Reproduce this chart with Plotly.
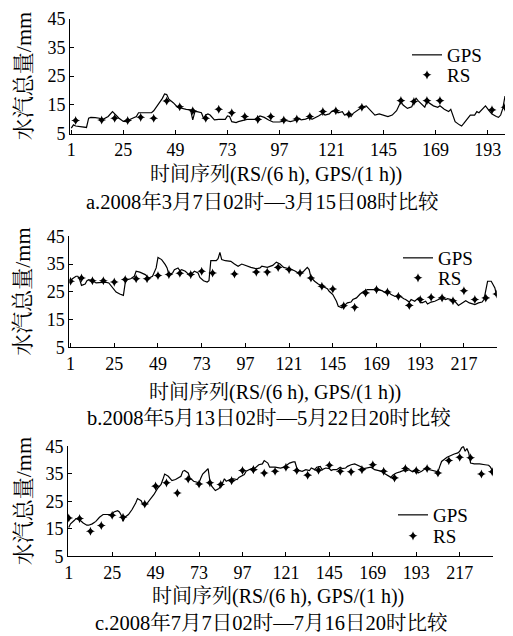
import plotly.graph_objects as go

W, H = 513, 636

# ---------------- data ----------------
# Panel a: 2008-03-07 02h -- 03-15 08h
a_gps_h = [1, 2, 3, 5, 8, 9, 10, 12, 14, 15, 18, 20, 21, 23, 25, 27, 28, 30, 31, 32, 35, 38, 39, 41, 43, 44, 45, 46, 48, 50,
           52, 54, 56, 57, 58, 59, 61, 62, 63, 64, 65, 67, 69, 72, 73, 74, 75, 77, 78, 82, 85, 86, 88, 90, 92, 94, 97, 100,
           102, 104, 106, 107, 109, 111, 112, 114, 115, 117, 118, 120, 121, 123, 124, 126, 127, 129, 130, 131, 133, 135,
           137, 139, 141, 143, 145, 147, 149, 151, 153, 154, 156, 158, 159, 160, 161, 163, 164, 165, 167, 168, 170, 171,
           173, 175, 176, 177, 178, 180, 181, 182, 184, 185, 187, 188, 189, 191, 192, 194, 195, 197, 198, 199, 200, 201]
a_gps_v = [7.0, 8.1, 7.7, 7.5, 7.2, 10.4, 10.7, 10.6, 10.4, 9.8, 11.0, 12.7, 11.9, 10.4, 9.3, 9.2, 10.0, 10.7, 11.0, 12.3,
           12.3, 12.3, 13.0, 15.0, 17.3, 18.8, 18.6, 17.0, 15.8, 14.2, 13.8, 13.5, 13.3, 9.8, 12.7, 12.7, 12.3, 10.4, 11.5,
           11.9, 11.5, 9.8, 10.0, 10.0, 11.2, 11.0, 9.2, 8.9, 9.2, 10.0, 10.0, 10.0, 11.2, 10.7, 9.8, 9.1, 9.1, 9.6, 9.2,
           9.6, 10.4, 9.8, 10.1, 10.7, 10.0, 11.0, 11.2, 12.1, 11.5, 11.9, 12.7, 13.0, 12.3, 12.7, 11.5, 11.9, 11.0, 12.1,
           13.3, 14.2, 14.7, 13.0, 11.5, 11.9, 11.5, 11.0, 11.5, 13.0, 16.2, 15.0, 13.8, 14.4, 16.2, 17.3, 16.4, 15.0,
           14.2, 16.2, 15.0, 14.7, 14.2, 14.7, 13.5, 12.7, 13.5, 11.5, 9.2, 8.1, 7.7, 8.6, 10.4, 11.5, 11.5, 12.7, 12.3,
           13.8, 14.7, 12.7, 11.9, 11.0, 10.7, 11.5, 13.8, 18.1]
a_rs_h = [3, 15, 21, 27, 33, 39, 45, 51, 57, 63, 69, 75, 81, 87, 93, 99, 105, 111, 117, 123, 129, 135, 153, 159, 165, 171,
          195, 201]
a_rs_v = [9.6, 9.8, 10.4, 9.6, 10.7, 10.4, 16.4, 14.4, 13.0, 10.4, 13.5, 12.3, 11.0, 10.0, 11.0, 9.8, 10.1, 11.0, 12.7,
          13.0, 11.8, 14.2, 16.5, 16.2, 16.5, 16.5, 13.3, 14.2]

# Panel b: 2008-05-13 02h -- 05-22 20h
b_gps_h = [1, 2, 4, 5, 6, 7, 9, 10, 11, 13, 15, 18, 20, 22, 24, 26, 28, 30, 31, 32, 34, 36, 37, 39, 42, 44, 46, 48, 49, 51,
           53, 54, 55, 57, 58, 60, 61, 62, 64, 66, 68, 69, 71, 72, 74, 76, 77, 78, 81, 82, 83, 84, 86, 89, 91, 93, 95, 97,
           100, 103, 105, 106, 109, 112, 114, 116, 118, 121, 124, 127, 129, 131, 132, 133, 135, 137, 139, 142, 143, 145,
           147, 148, 150, 151, 153, 155, 156, 158, 160, 162, 164, 166, 169, 172, 174, 176, 177, 179, 182, 184, 185, 187,
           188, 190, 192, 193, 194, 196, 197, 199, 201, 203, 205, 207, 208, 210, 212, 214, 215, 217, 218, 220, 223, 225,
           227, 228, 229, 230, 232, 234, 235]
b_gps_v = [28.9, 29.7, 30.6, 30.6, 29.4, 27.3, 27.8, 29.0, 29.4, 29.0, 28.2, 28.5, 28.5, 28.2, 26.6, 24.9, 24.2, 23.7, 28.2,
           29.4, 29.7, 30.6, 32.4, 32.1, 31.2, 30.0, 30.6, 33.6, 37.4, 36.6, 34.8, 33.6, 31.2, 31.8, 33.0, 33.6, 32.6, 33.0,
           32.4, 31.2, 31.8, 32.4, 31.8, 30.2, 29.0, 28.5, 29.0, 36.2, 36.2, 36.9, 39.2, 36.6, 36.2, 36.0, 35.0, 34.2, 35.0,
           34.5, 33.8, 33.3, 33.6, 34.2, 33.8, 34.5, 35.7, 35.0, 33.8, 33.3, 32.6, 31.4, 32.4, 33.8, 33.0, 30.2, 28.8, 27.8,
           27.0, 26.1, 25.2, 24.0, 21.6, 19.8, 19.2, 19.8, 21.0, 21.3, 22.2, 22.8, 24.2, 25.2, 25.8, 25.8, 25.8, 25.4, 24.6,
           24.6, 24.0, 23.4, 23.4, 22.5, 22.2, 21.3, 22.2, 21.6, 22.8, 21.3, 21.0, 21.6, 20.6, 21.3, 21.6, 22.2, 22.8, 22.2,
           22.5, 22.2, 21.6, 20.1, 20.6, 21.6, 21.8, 21.0, 20.4, 21.0, 21.3, 22.2, 25.8, 28.8, 28.8, 26.4, 23.4]
b_rs_h = [1, 7, 13, 19, 25, 31, 37, 43, 49, 55, 61, 67, 73, 79, 91, 103, 109, 115, 121, 127, 133, 139, 145, 151, 157, 163,
          169, 175, 181, 187, 193, 199, 205, 211, 217, 223, 229, 235]
b_rs_v = [28.8, 30.0, 29.0, 29.0, 28.5, 29.4, 29.7, 29.7, 30.9, 31.2, 31.7, 31.2, 32.4, 31.8, 31.4, 32.1, 32.1, 33.8, 33.0,
          31.8, 30.0, 27.0, 26.0, 20.0, 19.4, 24.6, 25.8, 24.9, 23.4, 20.1, 22.2, 23.0, 22.8, 21.8, 25.4, 22.2, 22.8, 24.2]

# Panel c: 2008-07-07 02h -- 07-16 20h
c_gps_h = [1, 2, 4, 5, 7, 9, 11, 12, 14, 16, 18, 20, 22, 25, 26, 28, 29, 30, 31, 32, 34, 36, 38, 39, 41, 42, 44, 46, 48, 50,
           52, 53, 54, 56, 58, 60, 63, 64, 65, 67, 68, 70, 73, 74, 75, 77, 78, 79, 80, 82, 84, 86, 87, 88, 90, 92, 94, 95,
           98, 99, 102, 104, 106, 108, 109, 111, 112, 115, 118, 120, 121, 123, 125, 126, 127, 128, 130, 132, 134, 135, 137,
           138, 140, 141, 143, 145, 146, 147, 149, 151, 152, 154, 155, 157, 159, 161, 163, 164, 166, 168, 170, 172, 174,
           175, 177, 179, 180, 182, 184, 186, 187, 189, 191, 193, 194, 196, 198, 200, 202, 204, 205, 206, 207, 210, 212,
           214, 216, 217, 218, 219, 220, 221, 222, 223, 225, 228, 231, 233, 234, 235]
c_gps_v = [15.5, 16.8, 18.0, 18.7, 18.3, 17.1, 16.3, 16.3, 16.8, 17.7, 19.2, 20.2, 20.2, 20.2, 21.1, 21.6, 21.1, 19.9, 17.7,
           19.2, 20.2, 22.0, 24.4, 26.0, 25.2, 23.8, 24.0, 25.6, 27.4, 29.6, 31.1, 32.9, 34.9, 34.1, 32.5, 32.9, 34.1, 35.9,
           36.2, 35.3, 33.5, 32.3, 31.7, 33.5, 34.9, 36.2, 36.9, 32.3, 30.5, 28.9, 29.6, 31.7, 33.2, 32.3, 32.9, 33.2, 32.9,
           33.7, 34.7, 35.9, 36.9, 37.1, 38.3, 38.6, 39.8, 38.9, 37.4, 37.4, 37.1, 37.4, 38.0, 38.9, 39.3, 39.3, 37.1, 36.2,
           35.9, 36.5, 36.2, 37.1, 36.5, 37.4, 37.7, 36.5, 37.1, 36.9, 36.2, 36.5, 36.5, 37.4, 36.9, 37.1, 37.7, 38.3, 38.6,
           38.1, 37.4, 36.9, 37.1, 37.4, 36.5, 36.2, 35.9, 35.3, 34.5, 33.7, 34.5, 35.3, 35.7, 36.2, 35.9, 36.5, 35.7, 36.2,
           35.3, 35.9, 36.9, 36.5, 36.2, 35.9, 35.7, 37.7, 39.5, 41.0, 41.7, 42.2, 42.6, 43.2, 44.4, 45.0, 43.2, 44.2, 42.6,
           38.9, 38.6, 38.6, 38.3, 38.1, 37.4, 36.2]
c_rs_h = [1, 7, 13, 19, 25, 31, 43, 49, 55, 61, 67, 73, 79, 85, 91, 97, 103, 109, 115, 121, 127, 133, 139, 145, 151, 157,
          163, 169, 175, 181, 187, 193, 199, 205, 211, 217, 223, 229, 235]
c_rs_v = [18.9, 18.7, 14.1, 16.2, 19.9, 19.2, 24.0, 30.5, 31.7, 28.0, 33.1, 31.3, 31.7, 31.1, 32.5, 36.2, 36.5, 35.3, 35.9,
          37.4, 36.2, 34.5, 36.3, 38.1, 35.9, 35.7, 36.5, 38.3, 35.9, 33.5, 36.9, 36.2, 36.9, 35.3, 39.8, 41.0, 40.8, 34.9,
          35.7]

x_ticks_a = [1, 25, 49, 73, 97, 121, 145, 169, 193]
x_ticks_bc = [1, 25, 49, 73, 97, 121, 145, 169, 193, 217]
y_ticks = [5, 15, 25, 35, 45]
x_title = "时间序列(RS/(6 h), GPS/(1 h))"
y_title = "水汽总量/mm"
captions = ["a.2008年3月7日02时—3月15日08时比较",
            "b.2008年5月13日02时—5月22日20时比较",
            "c.2008年7月7日02时—7月16日20时比较"]
series_names = ["GPS", "RS"]

# ---------------- layout helpers ----------------
SERIF = "Liberation Serif, Times New Roman, Noto Serif CJK SC, Noto Sans CJK SC, serif"


def fx(px):
    return px / W


def fy(py):
    return 1 - py / H


panels = [
    dict(gh=a_gps_h, gv=a_gps_v, rh=a_rs_h, rv=a_rs_v, ticks=x_ticks_a, xr=[0.4, 201.0],
         xd=(70, 505), yd=(18.5, 133.8), lg=(407, 55, 75), xt=(276, 174), cap=(262, 202)),
    dict(gh=b_gps_h, gv=b_gps_v, rh=b_rs_h, rv=b_rs_v, ticks=x_ticks_bc, xr=[0.3, 235.0],
         xd=(69.3, 496.7), yd=(236.3, 347.3), lg=(398, 258, 278), xt=(275, 392), cap=(269, 418)),
    dict(gh=c_gps_h, gv=c_gps_v, rh=c_rs_h, rv=c_rs_v, ticks=x_ticks_bc, xr=[0.6, 235.4],
         xd=(68, 493), yd=(446.3, 556.3), lg=(393, 515, 536), xt=(278, 596), cap=(271, 623)),
]

fig = go.Figure()
layout = dict(width=W, height=H, margin=dict(l=0, r=0, t=0, b=0, autoexpand=False),
              paper_bgcolor="white", plot_bgcolor="white", showlegend=True,
              font=dict(family=SERIF, color="black", size=18), annotations=[])


def legend_box(xp, yp):
    return dict(x=fx(xp), y=fy(yp), xanchor="left", yanchor="middle",
                bgcolor="rgba(0,0,0,0)", borderwidth=0, itemwidth=30,
                font=dict(family=SERIF, size=19, color="black"), tracegroupgap=0)


for i, p in enumerate(panels):
    n = "" if i == 0 else str(i + 1)
    leg_g = "legend" + ("" if i == 0 else str(2 * i + 1))
    leg_r = "legend" + str(2 * i + 2)
    fig.add_trace(go.Scatter(x=p["gh"], y=p["gv"], mode="lines", name=series_names[0],
                             line=dict(color="black", width=1.2),
                             xaxis="x" + n, yaxis="y" + n, legend=leg_g))
    fig.add_trace(go.Scatter(x=p["rh"], y=p["rv"], mode="markers", name=series_names[1],
                             marker=dict(symbol="star-diamond", size=6.5, color="black",
                                         line=dict(width=0)),
                             xaxis="x" + n, yaxis="y" + n, legend=leg_r))
    axis_common = dict(showline=True, linecolor="black", linewidth=1, ticks="inside", ticklen=4,
                       tickcolor="black", tickwidth=1, showgrid=False, zeroline=False,
                       automargin=False,
                       tickfont=dict(family=SERIF, size=18, color="black"))
    layout["xaxis" + n] = dict(domain=[fx(p["xd"][0]), fx(p["xd"][1])], range=p["xr"],
                               tickmode="array", tickvals=p["ticks"], anchor="y" + n, **axis_common)
    layout["yaxis" + n] = dict(domain=[fy(p["yd"][1]), fy(p["yd"][0])], range=[5, 45],
                               tickmode="array", tickvals=y_ticks, anchor="x" + n, **axis_common)
    layout[leg_g] = legend_box(p["lg"][0], p["lg"][1])
    layout[leg_r] = legend_box(p["lg"][0], p["lg"][2])
    # y title
    layout["annotations"].append(dict(text=y_title, x=fx(23), y=fy((p["yd"][0] + p["yd"][1]) / 2),
                                      xref="paper", yref="paper", showarrow=False, textangle=-90,
                                      xanchor="center", yanchor="middle",
                                      font=dict(family=SERIF, size=22, color="black")))
    # x title
    layout["annotations"].append(dict(text=x_title, x=fx(p["xt"][0]), y=fy(p["xt"][1]),
                                      xref="paper", yref="paper", showarrow=False,
                                      xanchor="center", yanchor="middle",
                                      font=dict(family=SERIF, size=20, color="black")))
    # caption
    layout["annotations"].append(dict(text=captions[i], x=fx(p["cap"][0]), y=fy(p["cap"][1]),
                                      xref="paper", yref="paper", showarrow=False,
                                      xanchor="center", yanchor="middle",
                                      font=dict(family=SERIF, size=20.5, color="black")))

fig.update_layout(**layout)
# the page body has a default 8px margin; remove it so the figure fills the window exactly
fig.write_html("out.html", config={"displayModeBar": False},
               post_script="document.body.style.margin='0px';")
